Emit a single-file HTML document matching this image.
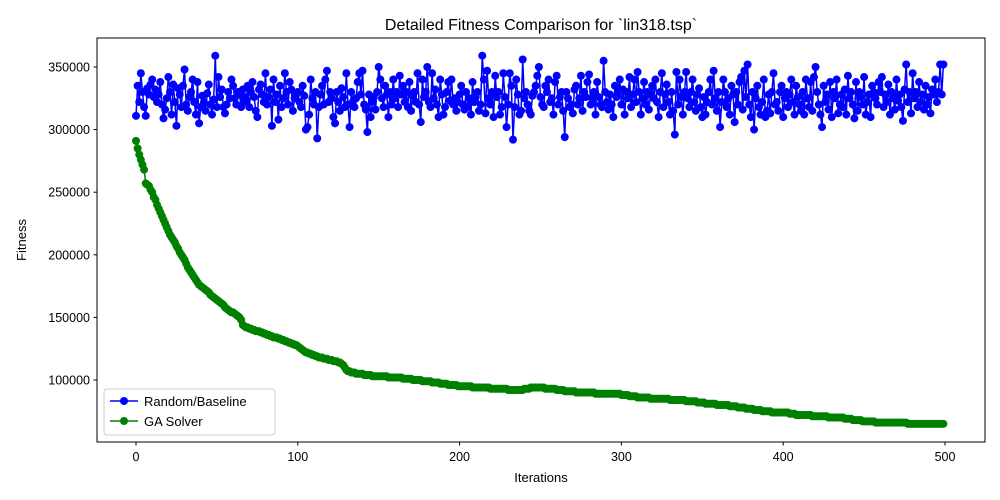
<!DOCTYPE html>
<html><head><meta charset="utf-8"><style>
body{margin:0;background:#fff;}
svg{display:block;font-family:"Liberation Sans","DejaVu Sans",sans-serif;}
</style></head><body>
<svg id="chart" width="1000" height="500" viewBox="0 0 1000 500" xmlns="http://www.w3.org/2000/svg">
<rect x="0" y="0" width="1000" height="500" fill="#fff"/>
<text x="541" y="30" text-anchor="middle" font-size="16" fill="#000">Detailed Fitness Comparison for `lin318.tsp`</text>
<g id="grid"></g>
<g id="series"></g>
<rect x="97" y="38" width="888" height="404" fill="none" stroke="#000" stroke-width="1"/>
<g id="axes"></g>
<text x="541" y="482" text-anchor="middle" font-size="13">Iterations</text>
<text transform="translate(26,240) rotate(-90)" text-anchor="middle" font-size="13">Fitness</text>
<g>
<rect x="104" y="389" width="171" height="46" rx="3" fill="#fff" fill-opacity="0.8" stroke="#ccc"/>
<g>
<line x1="110" y1="401" x2="138" y2="401" stroke="#0000ff" stroke-width="1.5"/><circle cx="124" cy="401" r="4" fill="#0000ff"/>
<text x="144" y="406" font-size="13">Random/Baseline</text></g>
<g>
<line x1="110" y1="421" x2="138" y2="421" stroke="#008000" stroke-width="1.5"/><circle cx="124" cy="421" r="4" fill="#008000"/>
<text x="144" y="426" font-size="13">GA Solver</text></g>
</g>
</svg>
<script>
const xTicks=[0,100,200,300,400,500];
const yTicks=[100000,150000,200000,250000,300000,350000];
const randomK=[311,335,322,345,330,318,311,333,328,336,340,326,332,322,328,338,320,309,316,325,
342,330,312,336,322,303,333,328,318,335,348,320,315,326,330,340,322,312,338,305,
318,327,322,315,329,336,320,312,324,359,318,342,326,332,318,313,320,330,325,340,
335,325,320,330,328,318,332,326,322,335,318,330,338,326,315,310,332,336,328,322,
345,320,326,332,303,340,322,328,308,335,318,325,345,330,320,338,332,315,325,328,
330,322,318,335,327,300,302,312,340,325,320,330,293,318,328,335,320,340,347,322,
330,325,310,305,330,322,315,333,326,318,345,320,302,330,322,318,325,338,345,328,
347,320,316,298,328,310,322,326,316,330,350,340,325,318,335,328,310,330,320,340,
325,330,318,343,328,335,322,330,318,338,315,327,330,322,345,320,306,340,326,330,
350,322,318,345,325,332,320,310,340,328,312,318,330,338,323,340,320,325,315,322,
328,335,320,316,330,318,325,312,338,322,326,330,315,320,359,340,313,347,325,320,
330,310,343,326,330,312,318,345,326,302,320,345,335,292,318,340,328,312,315,356,
325,330,320,315,312,327,330,335,343,350,326,320,318,335,330,340,322,325,312,338,
343,320,326,330,315,294,330,325,318,320,313,332,335,320,325,343,315,330,326,338,
344,320,325,330,312,338,326,320,318,355,330,322,316,328,320,310,335,326,330,340,
320,332,312,330,325,342,318,328,340,322,346,330,312,325,338,320,330,316,328,335,
325,340,322,310,330,345,318,328,336,322,312,330,315,296,346,320,340,326,312,330,
346,325,318,330,340,322,315,328,333,318,310,326,312,322,330,340,320,347,325,315,
330,302,322,340,330,318,325,312,335,328,306,330,320,338,342,316,347,326,352,320,
310,330,300,325,335,318,312,322,340,310,315,328,313,330,345,320,322,315,330,335,
310,325,330,318,328,340,322,312,335,326,320,315,330,312,340,325,318,338,315,342,
350,330,320,312,302,335,322,328,316,338,310,330,325,340,313,320,328,318,332,312,
343,325,330,320,309,338,315,330,326,320,342,312,322,328,310,335,330,325,320,338,
330,342,318,328,322,336,312,330,325,316,340,323,328,318,307,332,352,322,330,313,
345,325,330,318,338,322,328,316,335,320,326,313,332,328,340,322,330,352,328,352];
const gaK=[291,285,280,276,272,268,257,256,255,252,250,246,244,240,237,234,231,228,225,222,
219,216,214,212,210,207,205,202,200,198,196,193,190,188,186,184,182,180,178,176,
175,174,173,172,171,170,168,167,166,165,164,163,162,161,160,158,157,156,155,154,
154,153,152,151,150,148,144,143,142,142,141,141,140,140,139,139,139,138,138,137,
137,136,136,135,135,134,134,134,133,133,132,132,131,131,130,130,129,129,128,128,
127,126,125,124,123,122,122,121,121,120,120,119,119,118,118,118,117,117,117,116,
116,116,115,115,115,114,114,113,112,110,108,107,107,106,106,106,105,105,105,105,
105,104,104,104,104,104,103,103,103,103,103,103,103,103,103,103,102,102,102,102,
102,102,102,102,102,101,101,101,101,101,101,100,100,100,100,100,100,99,99,99,
99,99,99,98,98,98,98,98,97,97,97,97,97,96,96,96,96,96,96,95,
95,95,95,95,95,95,95,95,94,94,94,94,94,94,94,94,94,94,94,93,
93,93,93,93,93,93,93,93,93,93,92,92,92,92,92,92,92,92,92,92,
93,93,93,93,94,94,94,94,94,94,94,94,94,93,93,93,93,93,93,93,
92,92,92,92,92,91,91,91,91,91,91,91,90,90,90,90,90,90,90,90,
90,90,90,90,89,89,89,89,89,89,89,89,89,89,89,89,89,89,89,89,
88,88,88,88,88,87,87,87,87,87,86,86,86,86,86,86,86,86,85,85,
85,85,85,85,85,85,85,85,85,85,84,84,84,84,84,84,84,84,84,84,
83,83,83,83,83,83,83,82,82,82,82,82,81,81,81,81,81,81,81,80,
80,80,80,80,80,80,80,79,79,79,79,79,78,78,78,78,78,77,77,77,
77,77,76,76,76,76,76,75,75,75,75,75,75,74,74,74,74,74,74,74,
74,74,74,74,73,73,73,73,72,72,72,72,72,72,72,72,72,72,71,71,
71,71,71,71,71,71,71,71,70,70,70,70,70,70,70,70,70,70,69,69,
69,69,69,68,68,68,68,68,68,67,67,67,67,67,67,67,67,66,66,66,
66,66,66,66,66,66,66,66,66,66,66,66,66,66,66,66,66,65,65,65,
65,65,65,65,65,65,65,65,65,65,65,65,65,65,65,65,65,65,65,65];

const NS="http://www.w3.org/2000/svg";
function xs(v){return 136+v*(945-136)/500;}
function ys(v){return 380-(v-100000)*(62.6/50000);}
const axes=document.getElementById('axes');
function mk(t,a,p){const e=document.createElementNS(NS,t);for(const k in a)e.setAttribute(k,a[k]);p.appendChild(e);return e;}
xTicks.forEach(t=>{
  const g=mk('g',{},axes);
  
  
  mk('line',{x1:xs(t),x2:xs(t),y1:442,y2:445.5,stroke:'#000'},g);
  const tx=mk('text',{x:xs(t),y:461,'text-anchor':'middle','font-size':'12.5'},g);tx.textContent=t;
});
yTicks.forEach(t=>{
  const g=mk('g',{},axes);
  
  
  mk('line',{x1:93.5,x2:97,y1:ys(t),y2:ys(t),stroke:'#000'},g);
  const tx=mk('text',{x:90,y:ys(t)+4.5,'text-anchor':'end','font-size':'12.5'},g);tx.textContent=t;
});
const ser=document.getElementById('series');
function draw(arr,color,name){
  const g=mk('g',{},ser);
  
  
  const pts=arr.map((v,i)=>xs(i)+','+ys(v*1000).toFixed(1)).join(' ');
  mk('polyline',{points:pts,fill:'none',stroke:color,'stroke-width':1.5},g);
  arr.forEach((v,i)=>{const c=mk('circle',{cx:xs(i),cy:ys(v*1000),r:4,fill:color},g);
    
    });
}
draw(randomK,'#0000ff','random-baseline-series');
draw(gaK,'#008000','ga-solver-series');
</script>
</body></html>
